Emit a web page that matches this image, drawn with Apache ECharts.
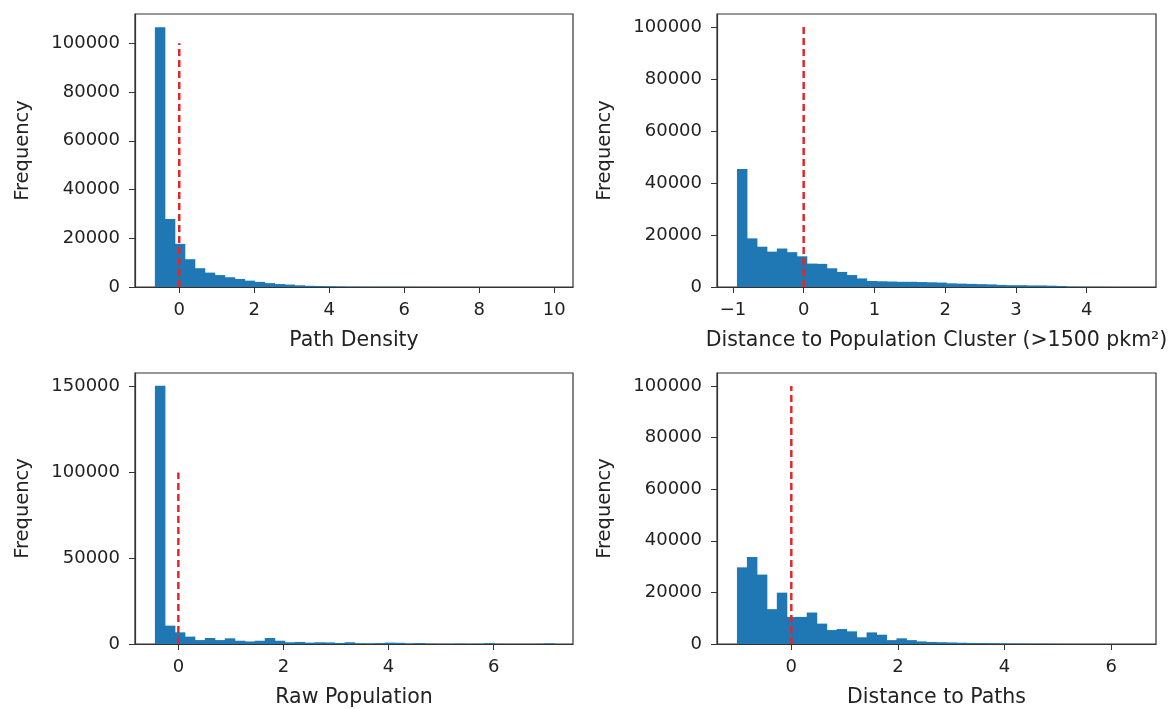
<!DOCTYPE html>
<html>
<head>
<meta charset="utf-8" />
<title>histograms</title>
<style>
  html, body { margin: 0; padding: 0; background: #fff; }
  #main { width: 1172px; height: 709px; }
</style>
<script src="https://cdn.jsdelivr.net/npm/echarts@6/dist/echarts.min.js"></script>
</head>
<body>
<div id="main"></div>
<script>
// bin start, bin width, counts (40 bins each)
var densityStart = -0.65, densityWidth = 0.266;
var densityCounts = [106600, 27900, 17700, 11400, 7700, 5900, 4900, 4000, 3300, 2600,
  2100, 1600, 1200, 1000, 700, 500, 400, 300, 200, 100,
  80, 60, 50, 40, 30, 25, 20, 15, 10, 8,
  6, 5, 4, 3, 2, 2, 1, 1, 1, 1];

var clusterStart = -0.943, clusterWidth = 0.141;
var clusterCounts = [45400, 18700, 15500, 13600, 14800, 13400, 11800, 9000, 8900, 7200,
  5800, 4600, 3300, 2300, 2200, 2100, 2000, 2000, 1900, 1800,
  1700, 1400, 1300, 1200, 1100, 1000, 800, 700, 700, 600,
  600, 500, 400, 100, 60, 40, 30, 20, 10, 5];

var popStart = -0.446, popWidth = 0.19;
var popCounts = [150500, 10700, 6800, 4300, 2300, 3500, 2300, 3300, 1900, 1500,
  1900, 3500, 1900, 1000, 1200, 800, 1000, 900, 600, 1000,
  400, 300, 500, 800, 700, 300, 600, 200, 100, 100,
  200, 100, 150, 500, 100, 50, 100, 50, 100, 400];

var pathsStart = -1.02, pathsWidth = 0.187;
var pathsCounts = [29700, 33700, 26900, 13500, 19900, 10500, 10500, 12200, 7900, 5400,
  5800, 4900, 2600, 4500, 3600, 1500, 2200, 1500, 1000, 800,
  700, 600, 500, 400, 350, 300, 250, 200, 150, 120,
  100, 80, 30, 20, 10, 5, 5, 3, 2, 1];

var xNames = ['Path Density', 'Distance to Population Cluster (>1500 pkm\u00b2)', 'Raw Population', 'Distance to Paths'];
var xTicks = [[0, 2, 4, 6, 8, 10], [-1, 0, 1, 2, 3, 4], [0, 2, 4, 6], [0, 2, 4, 6]];
var xRanges = [[-1.18, 10.5], [-1.225, 4.98], [-0.825, 7.51], [-1.394, 6.84]];
var yTicks = [
  [0, 20000, 40000, 60000, 80000, 100000],
  [0, 20000, 40000, 60000, 80000, 100000],
  [0, 50000, 100000, 150000],
  [0, 20000, 40000, 60000, 80000, 100000]
];
var yMax = [112000, 105000, 158000, 105000];
var meanLine = [[0, 0], [0, 100000]];

var panels = [
  [densityStart, densityWidth, densityCounts],
  [clusterStart, clusterWidth, clusterCounts],
  [popStart, popWidth, popCounts],
  [pathsStart, pathsWidth, pathsCounts]
];

var grids = [
  { left: 135, top: 14, width: 438, height: 273 },
  { left: 717, top: 14, width: 439, height: 273 },
  { left: 135, top: 373, width: 438, height: 274 },
  { left: 717, top: 373, width: 439, height: 274 }
];

var FONT = 'DejaVu Sans';
var TXT = '#222';

function fmt(v) {
  return v < 0 ? '\u2212' + Math.abs(v) : String(v);
}

function binRows(p) {
  var rows = [];
  for (var i = 0; i < p[2].length; i++) {
    var x0 = p[0] + i * p[1];
    rows.push([x0, x0 + p[1], p[2][i]]);
  }
  return rows;
}

var option = {
  backgroundColor: '#fff',
  animation: false,
  grid: [], xAxis: [], yAxis: [], series: []
};

grids.forEach(function (g, i) {
  option.grid.push({
    left: g.left, top: g.top, width: g.width, height: g.height,
    show: true, borderColor: '#333', borderWidth: 1.2, backgroundColor: 'transparent'
  });
  option.xAxis.push({
    type: 'value', gridIndex: i,
    min: xRanges[i][0], max: xRanges[i][1],
    name: xNames[i], nameLocation: 'middle', nameGap: 43,
    nameTextStyle: { fontFamily: FONT, fontSize: 20.5, color: TXT },
    axisLine: { show: true, onZero: false, lineStyle: { color: '#333', width: 1.2 } },
    axisTick: { show: true, length: 6, customValues: xTicks[i], lineStyle: { color: '#333' } },
    axisLabel: { customValues: xTicks[i], formatter: fmt, margin: 14,
      fontFamily: FONT, fontSize: 18, color: TXT },
    splitLine: { show: false }
  });
  option.yAxis.push({
    type: 'value', gridIndex: i,
    min: 0, max: yMax[i],
    name: 'Frequency', nameLocation: 'middle', nameRotate: 90, nameGap: 102,
    nameTextStyle: { fontFamily: FONT, fontSize: 19.5, color: TXT },
    axisLine: { show: true, onZero: false, lineStyle: { color: '#333', width: 1.2 } },
    axisTick: { show: true, length: 6, customValues: yTicks[i], lineStyle: { color: '#333' } },
    axisLabel: { customValues: yTicks[i], formatter: fmt, margin: 15,
      fontFamily: FONT, fontSize: 18, color: TXT },
    splitLine: { show: false }
  });
  option.series.push({
    type: 'custom', xAxisIndex: i, yAxisIndex: i,
    data: binRows(panels[i]),
    renderItem: function (params, api) {
      var p0 = api.coord([api.value(0), api.value(2)]);
      var p1 = api.coord([api.value(1), 0]);
      return {
        type: 'rect',
        shape: { x: p0[0], y: p0[1], width: p1[0] - p0[0] + 0.5, height: p1[1] - p0[1] },
        style: { fill: '#1f77b4' }
      };
    }
  });
  option.series.push({
    type: 'line', xAxisIndex: i, yAxisIndex: i,
    data: meanLine, symbol: 'none', z: 5,
    lineStyle: { color: '#e3262b', width: 2.5, type: [7, 4] }
  });
});

var chart = echarts.init(document.getElementById('main'));
chart.setOption(option);
window.onresize = function () { chart.resize(); };
</script>
</body>
</html>
